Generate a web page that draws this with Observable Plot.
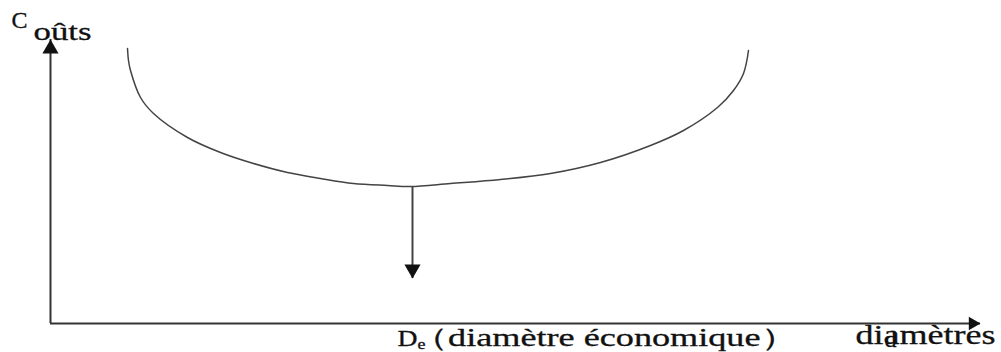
<!DOCTYPE html>
<html><head><meta charset="utf-8">
<script src="https://cdn.jsdelivr.net/npm/d3@7"></script>
<script src="https://cdn.jsdelivr.net/npm/@observablehq/plot@0.6"></script>
<style>html,body{margin:0;padding:0;background:#fff;} svg{display:block}</style>
</head><body><div id="chart"></div>
<script>
// Cost curve (diameter, cost) in arbitrary units
const diameters = [7.7, 7.8, 8.0, 9.0, 10.3, 13.7, 17.0, 20.3, 23.7, 27.0, 30.3, 33.7, 36.0, 40.0, 45.0, 50.0, 55.0, 60.0, 63.3, 66.7, 68.3, 69.3, 69.8];
const costs     = [27.5, 26.3, 25.3, 22.6, 21.0, 18.6, 17.1, 16.0, 15.1, 14.5, 14.0, 13.8, 13.7, 14.0, 14.4, 15.0, 16.1, 17.8, 19.3, 21.6, 23.3, 25.0, 27.3];
// Economic diameter and its arrow
const economicDiameter = [36.2];
const minCost = [13.7];
const arrowEnd = [4.5];
// Axis extents
const xAxisMax = 93;
const yAxisMax = 28.4;
// Texts
const labels = ["C", "oûts", "D", "e", "（diamètre économique）", "diamètres", "d"];

// Layout (positions / sizes / stretched widths) kept separate from data
const labelLayout = [
  {x: -3.9, y: 29.6, size: 24},
  {x: -1.7, y: 28.4, size: 26, len: 58},
  {x: 34.7, y: -2.2, size: 24, len: 20},
  {x: 36.7, y: -2.5, size: 14, len: 8},
  {x: 36.15, y: -2.2, size: 25, len: 385},
  {x: 80.5, y: -2.0, size: 27, len: 140},
  {x: 83.4, y: -2.3, size: 24}
];

const curve = diameters.map((d, i) => ({d, c: costs[i]}));
const labelRows = labels.map((t, i) => ({text: t, ...labelLayout[i]}));

const ink = "#111";
const textMarks = labelRows.map(r => Plot.text([r], {
  x: "x", y: "y", text: "text", fontSize: r.size, textAnchor: "start",
  lineAnchor: "bottom", fill: ink, stroke: ink, strokeWidth: 0.3,
  fontFamily: "Liberation Serif"
}));

const chart = Plot.plot({
  width: 1001, height: 352,
  marginLeft: 50, marginRight: 21, marginTop: 38, marginBottom: 29,
  x: {domain: [0, xAxisMax], axis: null},
  y: {domain: [0, 28.5], axis: null},
  style: {background: "#fff"},
  marks: [
    Plot.ruleX([0], {y1: 0, y2: yAxisMax, stroke: "#333", strokeWidth: 2}),
    Plot.ruleY([0], {x1: 0, x2: xAxisMax, stroke: "#333", strokeWidth: 2}),
    Plot.line(curve, {x: "d", y: "c", curve: "catmull-rom", stroke: "#444", strokeWidth: 1.5}),
    Plot.ruleX(economicDiameter, {x: d => d, y1: () => minCost[0], y2: () => arrowEnd[0], stroke: "#444", strokeWidth: 2}),
    Plot.dot([{x: 0, y: yAxisMax}], {x: "x", y: "y", symbol: "triangle", r: 6, fill: ink, stroke: "none", dy: 9.3}),
    Plot.dot([{x: xAxisMax, y: 0}], {x: "x", y: "y", symbol: "triangle", r: 5, fill: ink, stroke: "none", rotate: 90, dx: -7.8}),
    Plot.dot([{x: economicDiameter[0], y: arrowEnd[0]}], {x: "x", y: "y", symbol: "triangle", r: 6, fill: ink, stroke: "none", rotate: 180, dy: -9.3}),
    ...textMarks
  ]
});

document.getElementById("chart").appendChild(chart);

// Stretch texts horizontally (about their left edge) to match the reference's wide lettering
const byText = new Map(labelRows.map(r => [r.text, r]));
d3.select(chart).selectAll("text").each(function() {
  const r = byText.get(this.textContent);
  if (!r || !r.len) return;
  const b = this.getBBox();
  if (!b.width) return;
  const s = r.len / b.width;
  const t0 = this.getAttribute("transform") || "";
  this.setAttribute("transform", `${t0} translate(${b.x},0) scale(${s},1) translate(${-b.x},0)`);
});
</script>
</body></html>
